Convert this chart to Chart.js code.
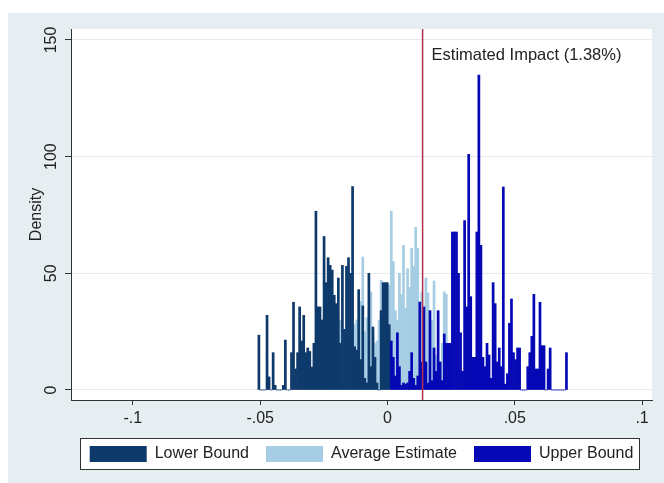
<!DOCTYPE html>
<html lang="en">
<head>
  <meta charset="UTF-8" />
  <title>Estimated Impact Distribution</title>
  <script src="https://cdn.jsdelivr.net/npm/chart.js"></script>
  <style>
    body { margin: 0; background: #ffffff; }
    canvas { display: block; }
  </style>
</head>
<body>
<canvas id="impactChart" width="664" height="483"></canvas>
<script>
  // Histogram bins (density); the three series share one bin width
  const binWidth = 0.0008;
  const lowerFirstBin = -0.0505;
  const averageFirstBin = -0.0241;
  const upperFirstBin = 0.0015;

  const lowerDensity = [
    23.5, 0, 0, 0, 32, 5.6, 0, 16, 2, 0, 0, 0, 2, 21.4, 0, 0, 16, 37.6, 9, 16,
    35.6, 21, 32, 16, 18, 16.5, 9.8, 20, 76.6, 35.6, 35.6, 30, 65.8, 46, 56.7, 53.4, 51.4, 40.6, 37, 48,
    20, 53.4, 26, 53, 56.7, 50, 87.2, 18.5, 17, 43, 13, 36, 5, 3, 50, 10, 27, 14, 3, 0,
    34, 46, 46, 46, 28
  ];
  const averageDensity = [
    22, 10, 15, 8, 12, 18, 25, 30, 14, 20, 22, 18, 25, 15, 28, 30, 20, 38, 57, 25,
    31, 35, 42, 24, 20, 21, 30, 47, 40, 38, 31, 45, 76.6, 55, 34, 30, 50, 41, 62, 35,
    52, 44, 60.7, 53, 69.7, 60.7, 32, 42, 30, 48, 41.6, 20, 30, 46.7, 15, 10, 12, 20, 42, 41,
    10, 5
  ];
  const upperDensity = [
    21, 14, 6, 24.5, 10, 2, 3, 2.5, 3, 8, 16, 5, 2, 6, 37.7, 12, 35.6, 12, 3, 34,
    4, 18, 8, 34, 12, 4, 24, 20, 20, 20, 67.7, 67.7, 67.7, 50, 24.5, 8, 72.6, 35.6, 101, 40,
    14, 14, 67.7, 135, 62, 14, 10, 20, 15, 5, 46, 37, 12, 18, 10, 87, 2.5, 7, 28.6, 39,
    16, 13, 18, 18, 0, 0, 0, 10, 16, 23, 41, 9, 9, 37.6, 19, 19, 0, 9, 18, 0,
    0, 0, 0, 0, 0, 0, 16
  ];

  const seriesNames = ['Lower Bound', 'Average Estimate', 'Upper Bound'];
  const seriesColors = ['#0e3a6b', '#a6cde3', '#0508b4'];
  const xTickValues = [-0.1, -0.05, 0, 0.05, 0.1];
  const xTickLabels = ['-.1', '-.05', '0', '.05', '.1'];
  const yTickValues = [0, 50, 100, 150];
  const estimatedImpact = 0.0138;
  const impactLabel = 'Estimated Impact (1.38%)';
  const impactLabelLevel = 143.5;

  const fontFamily = '"Liberation Sans", Arial, Helvetica, sans-serif';
  Chart.defaults.font.family = fontFamily;
  Chart.defaults.font.size = 16;
  Chart.defaults.color = '#222';

  // bin centres on a shared grid, rounded so equal bins compare equal
  function toPoints(first, heights) {
    return heights.map((h, i) => ({
      x: Math.round((first + i * binWidth) * 1e5) / 1e5,
      y: h
    }));
  }

  // grey graph region, white plot region, framed legend, impact marker
  const decorations = {
    id: 'decorations',
    beforeDraw(chart) {
      const { ctx, chartArea: a, width, height } = chart;
      ctx.save();
      ctx.fillStyle = '#ffffff';
      ctx.fillRect(0, 0, width, height);
      ctx.fillStyle = '#e7eef1';
      ctx.fillRect(8, 13, width - 8, height - 13);
      ctx.fillStyle = '#ffffff';
      ctx.fillRect(a.left, a.top, a.right - a.left, a.bottom - a.top);

      const boxes = chart.legend.legendHitBoxes;
      if (boxes && boxes.length) {
        const first = boxes[0];
        const last = boxes[boxes.length - 1];
        const x0 = Math.round(first.left - 10) + 0.5;
        const x1 = Math.round(last.left + last.width + 6) + 0.5;
        const y0 = Math.round(first.top - 8) + 0.5;
        const y1 = Math.round(first.top + first.height + 7) + 0.5;
        ctx.fillStyle = '#ffffff';
        ctx.fillRect(x0, y0, x1 - x0, y1 - y0);
        ctx.strokeStyle = '#333';
        ctx.lineWidth = 1;
        ctx.strokeRect(x0, y0, x1 - x0, y1 - y0);
      }
      ctx.restore();
    },
    afterDatasetsDraw(chart) {
      const { ctx, chartArea: a, scales } = chart;
      const px = scales.x.getPixelForValue(estimatedImpact);
      ctx.save();
      ctx.strokeStyle = '#b0304f';
      ctx.lineWidth = 1.5;
      ctx.beginPath();
      ctx.moveTo(px, a.top);
      ctx.lineTo(px, a.bottom);
      ctx.stroke();
      ctx.fillStyle = '#222';
      ctx.font = '16.5px ' + fontFamily;
      ctx.textAlign = 'left';
      ctx.textBaseline = 'middle';
      ctx.fillText(impactLabel, px + 9, scales.y.getPixelForValue(impactLabelLevel));
      ctx.restore();
    }
  };

  const barStyle = {
    borderWidth: 0,
    barPercentage: 1,
    categoryPercentage: 1,
    grouped: false
  };

  new Chart(document.getElementById('impactChart'), {
    type: 'bar',
    data: {
      datasets: [
        { label: seriesNames[0], data: toPoints(lowerFirstBin, lowerDensity),
          backgroundColor: seriesColors[0], order: 2, ...barStyle },
        { label: seriesNames[1], data: toPoints(averageFirstBin, averageDensity),
          backgroundColor: seriesColors[1], order: 3, ...barStyle },
        { label: seriesNames[2], data: toPoints(upperFirstBin, upperDensity),
          backgroundColor: seriesColors[2], order: 1, ...barStyle }
      ]
    },
    options: {
      responsive: false,
      animation: false,
      devicePixelRatio: 1,
      layout: { padding: { left: 0, top: 29, right: 12, bottom: 11 } },
      scales: {
        x: {
          type: 'linear',
          min: -0.1243,
          max: 0.1039,
          offset: false,
          afterBuildTicks: s => { s.ticks = xTickValues.map(v => ({ value: v })); },
          afterFit: s => { s.height = 29; },
          ticks: {
            autoSkip: false,
            maxRotation: 0,
            padding: 4,
            color: '#222',
            callback: (v, i) => xTickLabels[i]
          },
          grid: { drawOnChartArea: false, offset: false, tickLength: 5, tickColor: '#333' },
          border: { color: '#333', width: 1 }
        },
        y: {
          min: -4.29,
          max: 154.71,
          afterBuildTicks: s => { s.ticks = yTickValues.map(v => ({ value: v })); },
          afterFit: s => { s.width = 71; },
          ticks: {
            minRotation: 90,
            maxRotation: 90,
            crossAlign: 'center',
            padding: 0,
            color: '#222'
          },
          grid: { color: '#e3ebee', tickColor: '#333', tickLength: 6 },
          border: { color: '#333', width: 1 },
          title: { display: true, text: 'Density', color: '#222', padding: { top: 27, bottom: 0 } }
        }
      },
      plugins: {
        tooltip: { enabled: false },
        legend: {
          position: 'bottom',
          fullSize: false,
          labels: {
            boxWidth: 57,
            boxHeight: 16,
            padding: 17,
            color: '#222',
            sort: (a, b) => a.datasetIndex - b.datasetIndex
          }
        }
      }
    },
    plugins: [decorations]
  });
</script>
</body>
</html>
